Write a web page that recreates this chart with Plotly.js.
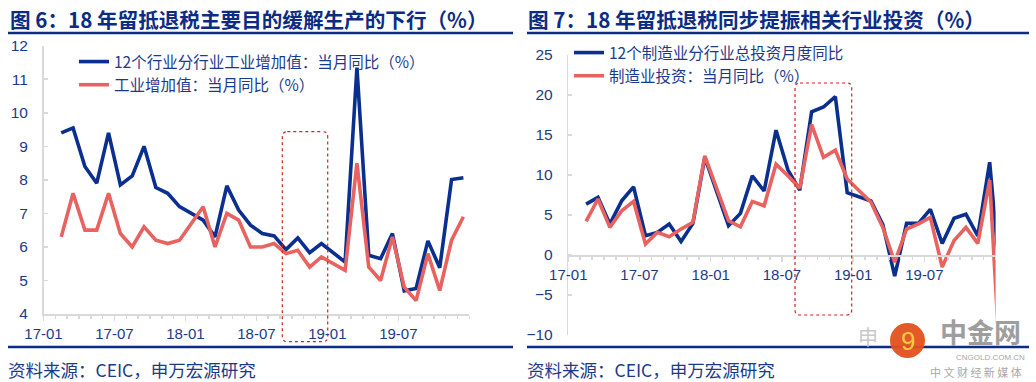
<!DOCTYPE html>
<html><head><meta charset="utf-8">
<script src="https://cdn.plot.ly/plotly-3.0.1.min.js"></script>
<style>html,body{margin:0;padding:0;background:#fff}#chart{width:1036px;height:382px}</style>
</head><body><div id="chart"></div>
<script>
// ---------- data ----------
const months = ['17-01','17-02','17-03','17-04','17-05','17-06','17-07','17-08','17-09','17-10','17-11','17-12',
                '18-01','18-02','18-03','18-04','18-05','18-06','18-07','18-08','18-09','18-10','18-11','18-12',
                '19-01','19-02','19-03','19-04','19-05','19-06','19-07','19-08','19-09','19-10','19-11','19-12',
                '20-01'];
const tickLabels = ['17-01','17-07','18-01','18-07','19-01','19-07'];

// 图6
const fig6Blue = [null,9.4,9.55,8.4,7.9,9.4,7.85,8.12,9.0,7.77,7.6,7.2,
                  null,6.8,6.3,7.82,7.1,6.65,6.4,6.33,5.92,6.27,5.83,6.1,
                  null,5.55,11.35,5.75,5.65,6.4,4.69,4.76,6.18,5.38,8.01,8.06];
const fig6Red  = [null,6.3,7.6,6.5,6.5,7.6,6.4,6.0,6.6,6.2,6.1,6.2,
                  null,7.2,6.0,7.0,6.8,6.0,6.0,6.1,5.8,5.9,5.4,5.7,
                  null,5.3,8.5,5.4,5.0,6.3,4.8,4.4,5.8,4.7,6.2,6.9];
// 图7
const fig7Blue = [null,6.36,7.2,3.87,6.77,8.52,2.41,2.83,3.87,1.7,3.95,12.2,
                  null,3.66,5.2,9.9,8.0,15.6,10.65,8.1,17.9,18.5,19.8,7.8,
                  null,6.75,3.8,-2.65,3.95,3.95,5.7,1.45,4.6,5.1,2.4,11.6,
                  -5.0];
const fig7Red  = [null,4.2,7.0,3.45,5.53,6.7,1.37,2.83,2.29,3.24,4.07,12.4,
                  null,4.28,3.53,6.7,6.15,11.35,9.9,8.35,16.3,12.2,13.1,9.5,
                  null,6.6,3.45,-0.9,3.25,3.9,4.7,-1.5,1.8,3.45,1.45,9.35,
                  -17.0];

const fig6Names = ['12个行业分行业工业增加值：当月同比（%）','工业增加值：当月同比（%）'];
const fig7Names = ['12个制造业分行业总投资月度同比','制造业投资：当月同比（%）'];
const titles = ['图 6：18 年留抵退税主要目的缓解生产的下行（%）','图 7：18 年留抵退税同步提振相关行业投资（%）'];
const sourceText = '资料来源：CEIC，申万宏源研究';

// ---------- style ----------
const W = 1036, H = 382;
const BLUE = '#0A2F8E', RED = '#E8625F';
const NAVY = '#0C2C84', LABEL = '#1B3A8C', AXIS = '#D9D9D9';
const CJK = '"Noto Sans CJK SC", "Noto Sans", sans-serif';
const NUM = '"Liberation Sans", Arial, "Noto Sans CJK SC", sans-serif';
const px = x => x / W, py = y => 1 - y / H;

const xOf = arr => arr.map((v, i) => i + 0.5);   // category centre on the month axis
const tickVals = tickLabels.map(l => months.indexOf(l));

function trace(vals, name, color, xa, ya, legend, group) {
  return {type: 'scatter', mode: 'lines', x: xOf(vals), y: vals, name: name,
          line: {color: color, width: 3.6}, connectgaps: true,
          xaxis: xa, yaxis: ya, legend: legend, legendgroup: group, hoverinfo: 'skip'};
}

const data = [
  trace(fig6Blue, fig6Names[0], BLUE, 'x', 'y', 'legend', 'a'),
  trace(fig6Red,  fig6Names[1], RED,  'x', 'y', 'legend', 'b'),
  trace(fig7Blue, fig7Names[0], BLUE, 'x2', 'y2', 'legend2', 'c'),
  trace(fig7Red,  fig7Names[1], RED,  'x2', 'y2', 'legend2', 'd')
];

function xAxis(domain, extra) {
  return Object.assign({
    domain: domain, range: [0, 36], fixedrange: true,
    tickmode: 'array', tickvals: tickVals, ticktext: tickLabels,
    ticks: 'outside', ticklen: 5, tickwidth: 1.5, tickcolor: AXIS,
    minor: {tickmode: 'linear', tick0: 0, dtick: 1, ticks: 'outside', ticklen: 3, tickwidth: 1.5, tickcolor: AXIS, showgrid: false},
    showline: true, linecolor: AXIS, linewidth: 1.5,
    showgrid: false, zeroline: false,
    tickfont: {family: NUM, size: 15, color: LABEL}
  }, extra);
}
function yAxis(domain, range, dtick, anchor) {
  return {
    domain: domain, range: range, dtick: dtick, tick0: 0, anchor: anchor, fixedrange: true,
    ticks: 'inside', ticklen: 4, tickwidth: 1.5, tickcolor: AXIS,
    showline: true, linecolor: AXIS, linewidth: 1.5,
    showgrid: false, zeroline: false, ticklabelstandoff: 11,
    tickfont: {family: NUM, size: 15.5, color: LABEL}
  };
}

function roundRect(x0, y0, x1, y1, r) {
  const X = px, Y = py;
  return `M${X(x0 + r)},${Y(y0)} L${X(x1 - r)},${Y(y0)} Q${X(x1)},${Y(y0)} ${X(x1)},${Y(y0 + r)} ` +
         `L${X(x1)},${Y(y1 - r)} Q${X(x1)},${Y(y1)} ${X(x1 - r)},${Y(y1)} L${X(x0 + r)},${Y(y1)} ` +
         `Q${X(x0)},${Y(y1)} ${X(x0)},${Y(y1 - r)} L${X(x0)},${Y(y0 + r)} Q${X(x0)},${Y(y0)} ${X(x0 + r)},${Y(y0)} Z`;
}

const legendBase = {
  bgcolor: 'rgba(0,0,0,0)', borderwidth: 0, xanchor: 'left', yanchor: 'top',
  font: {family: CJK, size: 15.5, color: LABEL}, traceorder: 'normal', itemclick: false, itemdoubleclick: false
};

const layout = {
  width: W, height: H, margin: {l: 0, r: 0, t: 0, b: 0},
  paper_bgcolor: '#fff', plot_bgcolor: 'rgba(0,0,0,0)',
  showlegend: true,
  xaxis: xAxis([px(43.5), px(469.3)], {anchor: 'y'}),
  yaxis: yAxis([py(314), py(45.7)], [4, 12], 1, 'x'),
  xaxis2: xAxis([px(568.3), px(995.6)], {anchor: 'free', position: py(255)}),
  yaxis2: yAxis([py(335), py(55)], [-10, 25], 5, 'x2'),
  legend: Object.assign({}, legendBase, {x: px(74), y: py(45), tracegroupgap: 8.5}),
  legend2: Object.assign({}, legendBase, {x: px(569), y: py(36), tracegroupgap: 2.5}),
  shapes: [
    {type: 'line', xref: 'paper', yref: 'paper', x0: px(8), x1: px(513), y0: py(33), y1: py(33), line: {color: NAVY, width: 2.5}},
    {type: 'line', xref: 'paper', yref: 'paper', x0: px(527), x1: px(1029), y0: py(33), y1: py(33), line: {color: NAVY, width: 2.5}},
    {type: 'line', xref: 'paper', yref: 'paper', x0: px(8), x1: px(513), y0: py(347), y1: py(347), line: {color: NAVY, width: 2.5}},
    {type: 'line', xref: 'paper', yref: 'paper', x0: px(527), x1: px(1029), y0: py(347), y1: py(347), line: {color: NAVY, width: 2.5}},
    {type: 'path', xref: 'paper', yref: 'paper', path: roundRect(282.3, 131.7, 327.7, 341.7, 5), line: {color: '#D02020', width: 1.2, dash: 'dot'}},
    {type: 'path', xref: 'paper', yref: 'paper', path: roundRect(795, 83, 851.7, 315, 5), line: {color: '#D02020', width: 1.2, dash: 'dot'}},
    {type: 'circle', xref: 'paper', yref: 'paper', x0: px(890), x1: px(925), y0: py(323), y1: py(358), fillcolor: '#E2501C', line: {width: 0}, opacity: 0.95}
  ],
  annotations: [
    {text: '<b>' + titles[0] + '</b>', xref: 'paper', yref: 'paper', x: px(8), y: py(19), xanchor: 'left', yanchor: 'middle', showarrow: false, font: {family: CJK, size: 20.6, color: NAVY}},
    {text: '<b>' + titles[1] + '</b>', xref: 'paper', yref: 'paper', x: px(526), y: py(19), xanchor: 'left', yanchor: 'middle', showarrow: false, font: {family: CJK, size: 20.6, color: NAVY}},
    {text: sourceText, xref: 'paper', yref: 'paper', x: px(6), y: py(369), xanchor: 'left', yanchor: 'middle', showarrow: false, font: {family: CJK, size: 17.5, color: LABEL}},
    {text: sourceText, xref: 'paper', yref: 'paper', x: px(525), y: py(369), xanchor: 'left', yanchor: 'middle', showarrow: false, font: {family: CJK, size: 17.5, color: LABEL}},
    {text: '申', xref: 'paper', yref: 'paper', x: px(868), y: py(336), xanchor: 'center', yanchor: 'middle', showarrow: false, font: {family: CJK, size: 20, color: '#C8C8C8'}},
    {text: '9', xref: 'paper', yref: 'paper', x: px(907.5), y: py(340.5), xanchor: 'center', yanchor: 'middle', showarrow: false, font: {family: NUM, size: 26, color: '#F7C948'}},
    {text: '<b>中金网</b>', xref: 'paper', yref: 'paper', x: px(980), y: py(331), xanchor: 'center', yanchor: 'middle', showarrow: false, font: {family: CJK, size: 27, color: '#9E9E9E'}},
    {text: 'CNGOLD.COM.CN', xref: 'paper', yref: 'paper', x: px(990), y: py(357), xanchor: 'center', yanchor: 'middle', showarrow: false, font: {family: NUM, size: 8, color: '#A8A8A8'}},
    {text: '中 文 财 经 新 媒 体', xref: 'paper', yref: 'paper', x: px(976), y: py(372), xanchor: 'center', yanchor: 'middle', showarrow: false, font: {family: CJK, size: 11, color: '#A8A8A8'}}
  ]
};

Plotly.newPlot('chart', data, layout, {displayModeBar: false, staticPlot: true});
</script>
</body></html>
